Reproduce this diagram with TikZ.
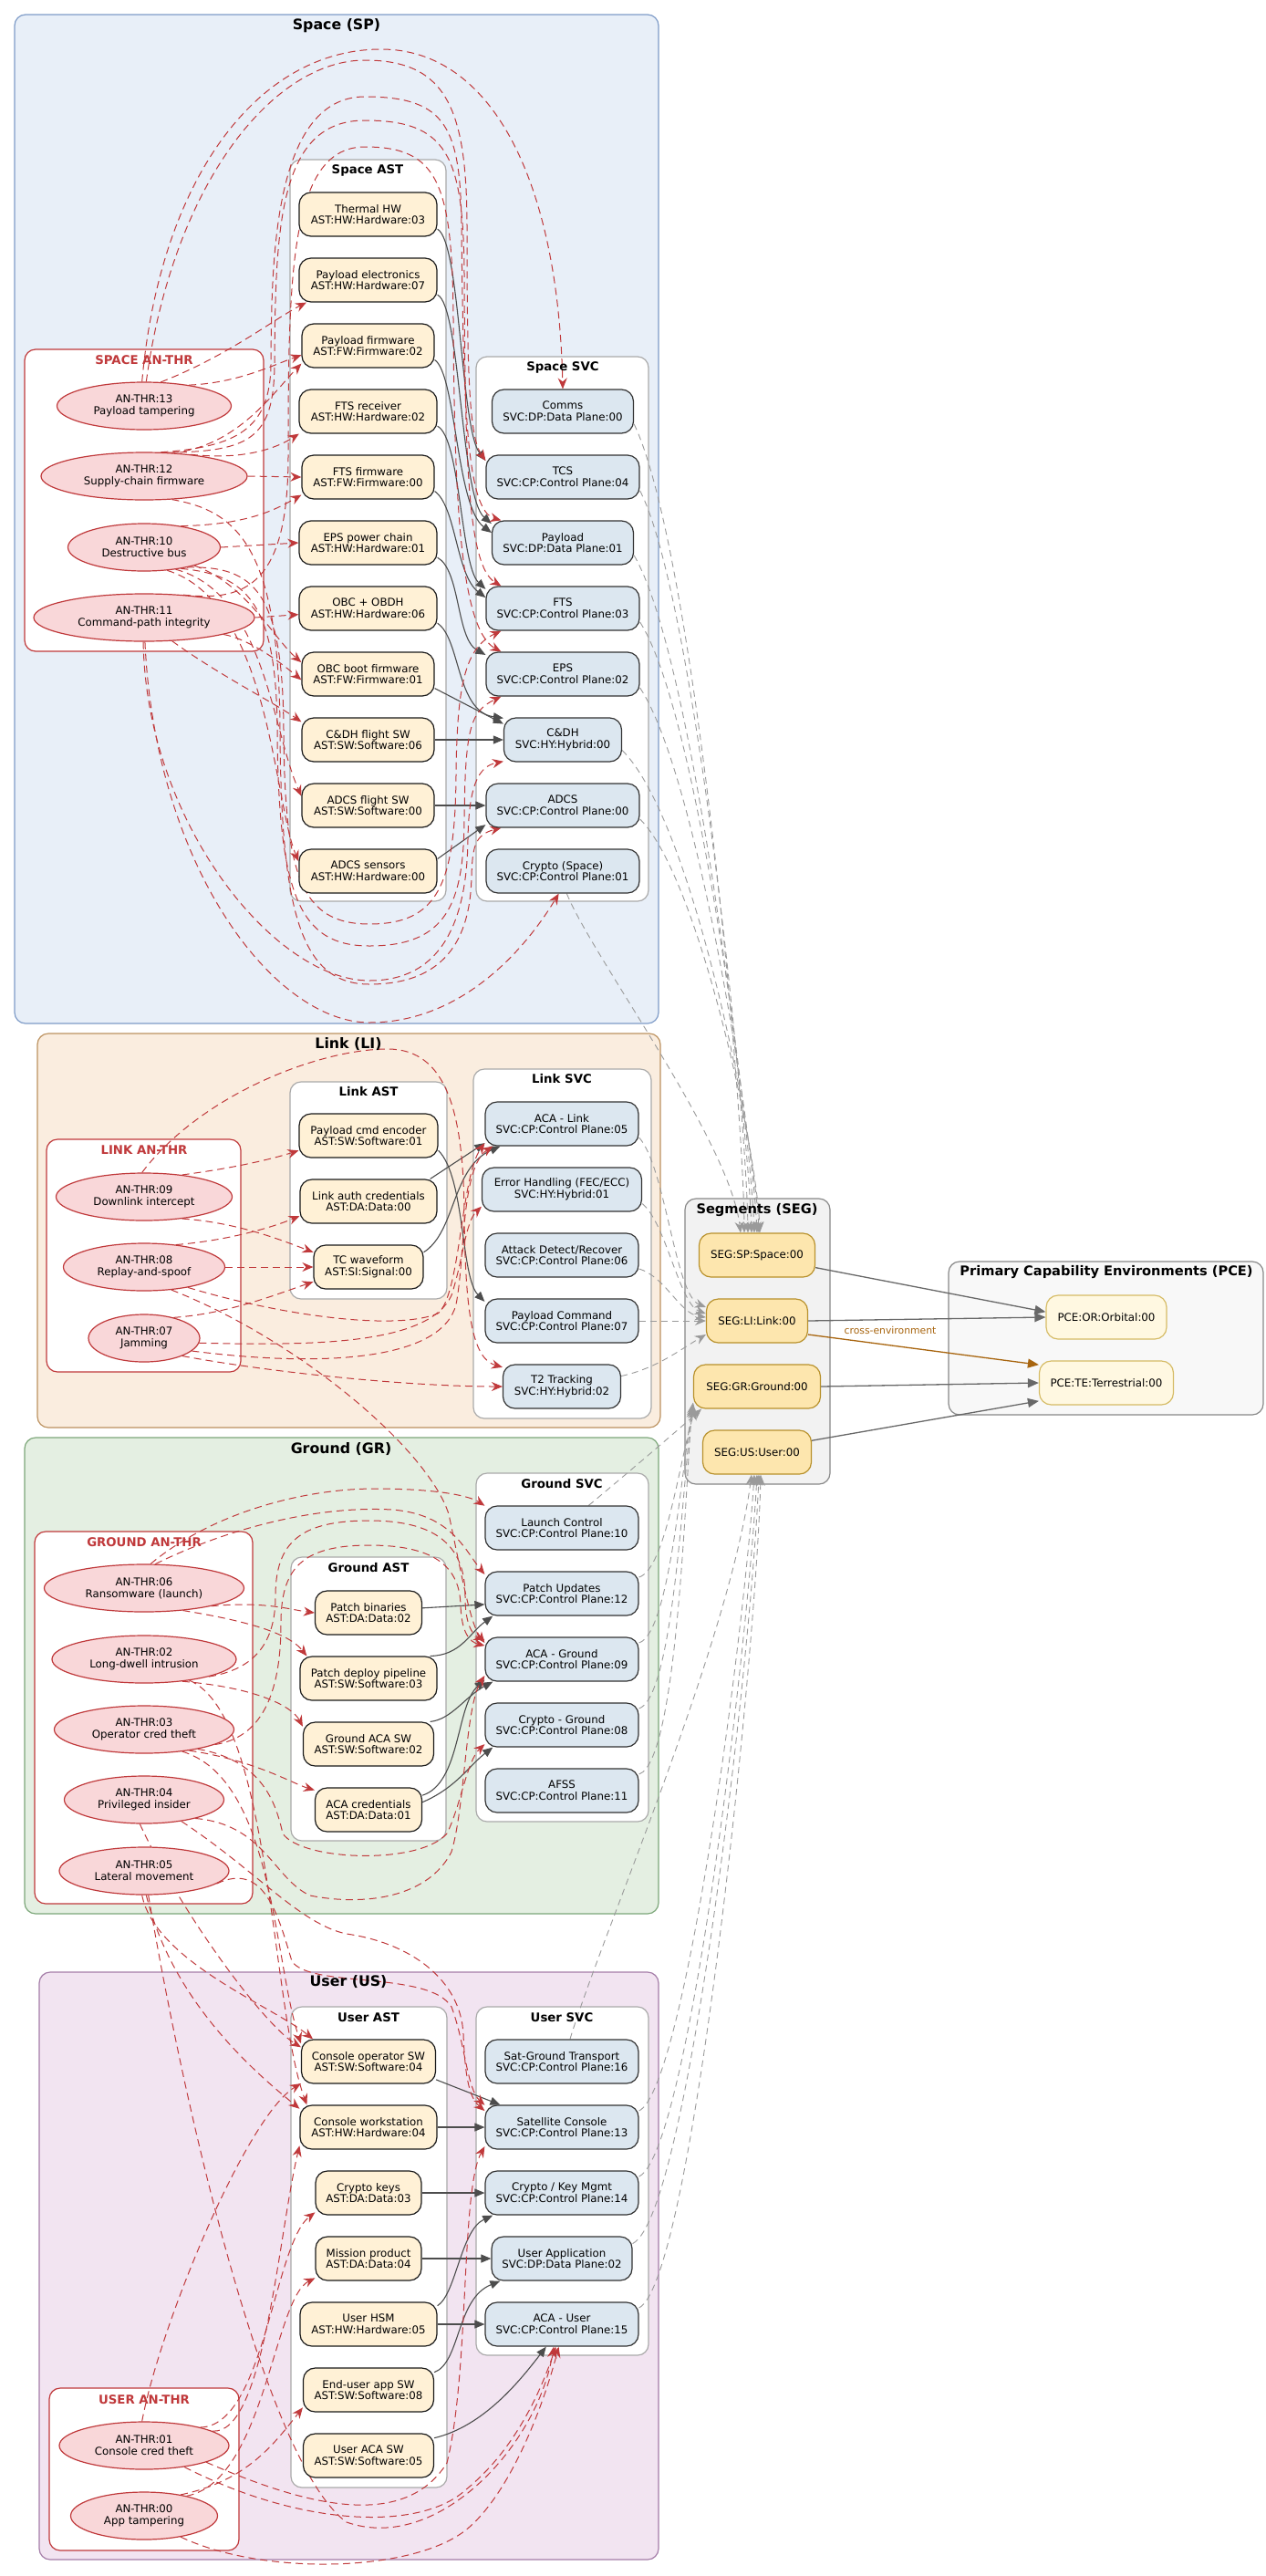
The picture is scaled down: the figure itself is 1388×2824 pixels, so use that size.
\documentclass[tikz,border=0pt]{standalone}
\usepackage{fontspec}
\setmainfont{DejaVu Sans}
\usetikzlibrary{shapes.geometric,arrows.meta}
\pgfdeclarelayer{bg}
\pgfdeclarelayer{edges}
\pgfsetlayers{bg,edges,main}
\definecolor{spfill}{HTML}{E8EFF8}\definecolor{spdraw}{HTML}{7F9CC8}
\definecolor{lifill}{HTML}{FAEDDF}\definecolor{lidraw}{HTML}{BC9260}
\definecolor{grfill}{HTML}{E4EFE2}\definecolor{grdraw}{HTML}{7DA77A}
\definecolor{usfill}{HTML}{F2E4F1}\definecolor{usdraw}{HTML}{A57DA8}
\definecolor{subdraw}{HTML}{AAAAAA}
\definecolor{thrdraw}{HTML}{C0393B}\definecolor{thrfill}{HTML}{F9D7D9}
\definecolor{astfill}{HTML}{FFF1D6}\definecolor{astdraw}{HTML}{1A1A1A}
\definecolor{svcfill}{HTML}{DCE7F0}\definecolor{svcdraw}{HTML}{333333}
\definecolor{segfill}{HTML}{FDE6AE}\definecolor{segdraw}{HTML}{B8912C}
\definecolor{pcefill}{HTML}{FFF8E1}\definecolor{pcedraw}{HTML}{D6BC66}
\definecolor{clgray}{HTML}{888888}\definecolor{segclfill}{HTML}{F2F2F2}\definecolor{pceclfill}{HTML}{F8F8F8}
\definecolor{flowcol}{HTML}{4D4D4D}\definecolor{atkcol}{HTML}{C0393B}
\definecolor{mapcol}{HTML}{9A9A9A}\definecolor{browncol}{HTML}{A8650F}
\newcommand{\nf}{\fontsize{11.8}{12.8}\selectfont}
\tikzset{
 cluster/.style={rounded corners=12pt, line width=1.2pt},
 sub/.style={cluster, draw=subdraw, fill=white},
 thrcl/.style={cluster, draw=thrdraw, fill=white},
 ctitle/.style={font=\bfseries\fontsize{15.8}{18}\selectfont, inner sep=0pt},
 stitle/.style={font=\bfseries\fontsize{13.3}{15}\selectfont, inner sep=0pt},
 btitle/.style={font=\bfseries\fontsize{14.6}{16}\selectfont, inner sep=0pt},
 ttitle/.style={stitle, text=thrdraw},
 box/.style={rounded corners=13pt, minimum height=48pt, inner sep=0pt, align=center, font=\nf, line width=1.2pt},
 ast/.style={box, draw=astdraw, fill=astfill},
 svc/.style={box, draw=svcdraw, fill=svcfill},
 seg/.style={box, draw=segdraw, fill=segfill},
 pce/.style={box, draw=pcedraw, fill=pcefill},
 thr/.style={ellipse, draw=thrdraw, fill=thrfill, line width=1.2pt, minimum height=52pt, inner sep=0pt, align=center, font=\nf},
 flow/.style={draw=flowcol, line width=1.1pt, -{Triangle[length=11pt,width=9pt]}},
 flowg/.style={draw=flowcol!85, line width=1.3pt, -{Triangle[length=12pt,width=10pt]}},
 flowb/.style={draw=browncol, line width=1.3pt, -{Triangle[length=12pt,width=10pt]}},
 atk/.style={draw=atkcol, line width=1pt, dash pattern=on 8pt off 5pt, -{Stealth[length=12pt,width=10pt,inset=4pt]}},
 map/.style={draw=mapcol, line width=0.9pt, dash pattern=on 7pt off 5pt, -{Stealth[length=12pt,width=10pt,inset=4pt]}},
}
\begin{document}
\begin{tikzpicture}[x=1pt,y=-1pt]
\useasboundingbox (0,0) rectangle (1388,2824);
\begin{pgfonlayer}{bg}
\fill[white] (0,0) rectangle (1388,2824);
% Space
\draw[cluster, draw=spdraw, fill=spfill] (16,16) rectangle (722,1122);
\draw[sub] (318,175) rectangle (489,988);
\draw[sub] (522,391) rectangle (711,988);
\draw[thrcl] (27,383) rectangle (289,714);
% Link
\draw[cluster, draw=lidraw, fill=lifill] (41,1133) rectangle (724,1565);
\draw[sub] (318,1186) rectangle (490,1424);
\draw[sub] (519,1172) rectangle (714,1555);
\draw[thrcl] (51,1249) rectangle (264,1504);
% Ground
\draw[cluster, draw=grdraw, fill=grfill] (27,1576) rectangle (722,2098);
\draw[sub] (522,1615) rectangle (711,1997);
\draw[sub] (319,1707) rectangle (489,2018);
\draw[thrcl] (38,1679) rectangle (277,2087);
% User
\draw[cluster, draw=usdraw, fill=usfill] (43,2162) rectangle (722,2806);
\draw[sub] (319,2200) rectangle (490,2727);
\draw[sub] (522,2200) rectangle (711,2582);
\draw[thrcl] (54,2618) rectangle (262,2796);
% Segments / PCE
\draw[cluster, draw=clgray, fill=segclfill] (751,1314) rectangle (910,1627);
\draw[cluster, draw=clgray, fill=pceclfill] (1040,1383) rectangle (1385,1551);
\end{pgfonlayer}

% titles
\node[ctitle] (tsp) at (369,28) {Space (SP)};
\node[stitle] (tspa) at (403,187) {Space AST};
\node[stitle] (tsps) at (617,403) {Space SVC};
\node[ttitle] (tspt) at (158,395) {SPACE AN-THR};
\node[ctitle] (tli) at (382,1145) {Link (LI)};
\node[stitle] (tlia) at (404,1197) {Link AST};
\node[stitle] (tlis) at (616,1183) {Link SVC};
\node[ttitle] (tlit) at (158,1261) {LINK AN-THR};
\node[ctitle] (tgr) at (374,1589) {Ground (GR)};
\node[stitle] (tgrs) at (616,1627) {Ground SVC};
\node[stitle] (tgra) at (404,1719) {Ground AST};
\node[ttitle] (tgrt) at (158,1691) {GROUND AN-THR};
\node[ctitle] (tus) at (382,2173) {User (US)};
\node[stitle] (tusa) at (404,2212) {User AST};
\node[stitle] (tuss) at (616,2212) {User SVC};
\node[ttitle] (tust) at (158,2631) {USER AN-THR};
\node[btitle] (tseg) at (830,1327) {Segments (SEG)};
\node[btitle] (tpce) at (1213,1395) {Primary Capability Environments (PCE)};

% Space AST
\node[ast, minimum width=151pt] (sa1) at (403.5,235) {Thermal HW\\AST:HW:Hardware:03};
\node[ast, minimum width=151pt] (sa2) at (403.5,307) {Payload electronics\\AST:HW:Hardware:07};
\node[ast, minimum width=145pt] (sa3) at (403.5,379) {Payload firmware\\AST:FW:Firmware:02};
\node[ast, minimum width=151pt] (sa4) at (403.5,451) {FTS receiver\\AST:HW:Hardware:02};
\node[ast, minimum width=145pt] (sa5) at (403.5,523) {FTS firmware\\AST:FW:Firmware:00};
\node[ast, minimum width=151pt] (sa6) at (403.5,595) {EPS power chain\\AST:HW:Hardware:01};
\node[ast, minimum width=151pt] (sa7) at (403.5,667) {OBC + OBDH\\AST:HW:Hardware:06};
\node[ast, minimum width=145pt] (sa8) at (403.5,739) {OBC boot firmware\\AST:FW:Firmware:01};
\node[ast, minimum width=145pt] (sa9) at (403.5,811) {C\&DH flight SW\\AST:SW:Software:06};
\node[ast, minimum width=145pt] (sa10) at (403.5,883) {ADCS flight SW\\AST:SW:Software:00};
\node[ast, minimum width=151pt] (sa11) at (403.5,955) {ADCS sensors\\AST:HW:Hardware:00};
% Space SVC
\node[svc, minimum width=155pt] (ss1) at (617,451) {Comms\\SVC:DP:Data Plane:00};
\node[svc, minimum width=168pt] (ss2) at (617,523) {TCS\\SVC:CP:Control Plane:04};
\node[svc, minimum width=155pt] (ss3) at (617,595) {Payload\\SVC:DP:Data Plane:01};
\node[svc, minimum width=168pt] (ss4) at (617,667) {FTS\\SVC:CP:Control Plane:03};
\node[svc, minimum width=168pt] (ss5) at (617,739) {EPS\\SVC:CP:Control Plane:02};
\node[svc, minimum width=129pt] (ss6) at (617,811) {C\&DH\\SVC:HY:Hybrid:00};
\node[svc, minimum width=168pt] (ss7) at (617,883) {ADCS\\SVC:CP:Control Plane:00};
\node[svc, minimum width=168pt] (ss8) at (617,955) {Crypto (Space)\\SVC:CP:Control Plane:01};
% Space threats
\node[thr, minimum width=191pt] (st13) at (158,445) {AN-THR:13\\Payload tampering};
\node[thr, minimum width=226pt] (st12) at (158,522) {AN-THR:12\\Supply-chain firmware};
\node[thr, minimum width=167pt] (st10) at (158,600) {AN-THR:10\\Destructive bus};
\node[thr, minimum width=242pt] (st11) at (158,677) {AN-THR:11\\Command-path integrity};

% Link
\node[ast, minimum width=152pt] (la1) at (404,1245) {Payload cmd encoder\\AST:SW:Software:01};
\node[ast, minimum width=150pt] (la2) at (404,1317) {Link auth credentials\\AST:DA:Data:00};
\node[ast, minimum width=120pt] (la3) at (404,1389) {TC waveform\\AST:SI:Signal:00};
\node[svc, minimum width=168pt] (ls1) at (616,1232) {ACA - Link\\SVC:CP:Control Plane:05};
\node[svc, minimum width=175pt] (ls2) at (616,1304) {Error Handling (FEC/ECC)\\SVC:HY:Hybrid:01};
\node[svc, minimum width=168pt] (ls3) at (616,1376) {Attack Detect/Recover\\SVC:CP:Control Plane:06};
\node[svc, minimum width=168pt] (ls4) at (616,1448) {Payload Command\\SVC:CP:Control Plane:07};
\node[svc, minimum width=129pt] (ls5) at (616,1520) {T2 Tracking\\SVC:HY:Hybrid:02};
\node[thr, minimum width=193pt] (lt09) at (158,1312) {AN-THR:09\\Downlink intercept};
\node[thr, minimum width=177pt] (lt08) at (158,1389) {AN-THR:08\\Replay-and-spoof};
\node[thr, minimum width=122pt] (lt07) at (158,1467) {AN-THR:07\\Jamming};

% Ground
\node[svc, minimum width=168pt] (gs1) at (616,1675) {Launch Control\\SVC:CP:Control Plane:10};
\node[svc, minimum width=168pt] (gs2) at (616,1747) {Patch Updates\\SVC:CP:Control Plane:12};
\node[svc, minimum width=168pt] (gs3) at (616,1819) {ACA - Ground\\SVC:CP:Control Plane:09};
\node[svc, minimum width=168pt] (gs4) at (616,1891) {Crypto - Ground\\SVC:CP:Control Plane:08};
\node[svc, minimum width=168pt] (gs5) at (616,1963) {AFSS\\SVC:CP:Control Plane:11};
\node[ast, minimum width=117pt] (ga1) at (404,1768) {Patch binaries\\AST:DA:Data:02};
\node[ast, minimum width=150pt] (ga2) at (404,1840) {Patch deploy pipeline\\AST:SW:Software:03};
\node[ast, minimum width=143pt] (ga3) at (404,1912) {Ground ACA SW\\AST:SW:Software:02};
\node[ast, minimum width=117pt] (ga4) at (404,1984) {ACA credentials\\AST:DA:Data:01};
\node[thr, minimum width=219pt] (gt06) at (158,1741) {AN-THR:06\\Ransomware (launch)};
\node[thr, minimum width=202pt] (gt02) at (158,1819) {AN-THR:02\\Long-dwell intrusion};
\node[thr, minimum width=197pt] (gt03) at (158,1896) {AN-THR:03\\Operator cred theft};
\node[thr, minimum width=175pt] (gt04) at (158,1973) {AN-THR:04\\Privileged insider};
\node[thr, minimum width=186pt] (gt05) at (158,2051) {AN-THR:05\\Lateral movement};

% User
\node[ast, minimum width=147pt] (ua1) at (404,2260) {Console operator SW\\AST:SW:Software:04};
\node[ast, minimum width=150pt] (ua2) at (404,2332) {Console workstation\\AST:HW:Hardware:04};
\node[ast, minimum width=116pt] (ua3) at (404,2404) {Crypto keys\\AST:DA:Data:03};
\node[ast, minimum width=116pt] (ua4) at (404,2476) {Mission product\\AST:DA:Data:04};
\node[ast, minimum width=150pt] (ua5) at (404,2548) {User HSM\\AST:HW:Hardware:05};
\node[ast, minimum width=143pt] (ua6) at (404,2620) {End-user app SW\\AST:SW:Software:08};
\node[ast, minimum width=143pt] (ua7) at (404,2692) {User ACA SW\\AST:SW:Software:05};
\node[svc, minimum width=168pt] (us1) at (616,2260) {Sat-Ground Transport\\SVC:CP:Control Plane:16};
\node[svc, minimum width=168pt] (us2) at (616,2332) {Satellite Console\\SVC:CP:Control Plane:13};
\node[svc, minimum width=168pt] (us3) at (616,2404) {Crypto / Key Mgmt\\SVC:CP:Control Plane:14};
\node[svc, minimum width=154pt] (us4) at (616,2476) {User Application\\SVC:DP:Data Plane:02};
\node[svc, minimum width=168pt] (us5) at (616,2548) {ACA - User\\SVC:CP:Control Plane:15};
\node[thr, minimum width=186pt] (ut01) at (158,2681) {AN-THR:01\\Console cred theft};
\node[thr, minimum width=161pt] (ut00) at (158,2758) {AN-THR:00\\App tampering};

% Segments / PCE
\node[seg, minimum width=127pt] (seg1) at (830,1376) {SEG:SP:Space:00};
\node[seg, minimum width=111pt] (seg2) at (830,1448) {SEG:LI:Link:00};
\node[seg, minimum width=139pt] (seg3) at (830,1520) {SEG:GR:Ground:00};
\node[seg, minimum width=119pt] (seg4) at (830,1592) {SEG:US:User:00};
\node[pce, minimum width=132pt] (pce1) at (1213,1444) {PCE:OR:Orbital:00};
\node[pce, minimum width=147pt] (pce2) at (1213,1516) {PCE:TE:Terrestrial:00};
\node[font=\fontsize{10.8}{12}\selectfont, text=browncol, inner sep=0pt] (lblx) at (976,1458) {cross-environment};

\begin{pgfonlayer}{edges}
% ---- solid AST -> SVC
\draw[flow] (sa1.-12) .. controls (505,265) and (505,470) .. (ss2.168);
\draw[flow] (sa2.-12) .. controls (505,335) and (505,545) .. (ss3.165);
\draw[flow] (sa3.-12) .. controls (500,410) and (500,555) .. (ss3.172);
\draw[flow] (sa4.-12) .. controls (505,480) and (505,620) .. (ss4.166);
\draw[flow] (sa5.-12) .. controls (500,555) and (500,630) .. (ss4.172);
\draw[flow] (sa6.-12) .. controls (505,625) and (500,700) .. (ss5.166);
\draw[flow] (sa7.-12) .. controls (505,700) and (500,780) .. (ss6.160);
\draw[flow] (sa8.-12) -- (ss6.165);
\draw[flow] (sa9.east) -- (ss6.west);
\draw[flow] (sa10.east) -- (ss7.west);
\draw[flow] (sa11.10) -- (ss7.-166);
\draw[flow] (la1.-12) .. controls (510,1290) and (505,1400) .. (ls4.166);
\draw[flow] (la2.20) -- (ls1.-166);
\draw[flow] (la3.15) .. controls (500,1350) and (495,1280) .. (ls1.-160);
\draw[flow] (ga1.5) -- (gs2.-172);
\draw[flow] (ga2.20) .. controls (505,1815) and (515,1790) .. (gs2.-162);
\draw[flow] (ga3.20) .. controls (495,1885) and (510,1860) .. (gs3.-162);
\draw[flow] (ga4.15) .. controls (505,1955) and (500,1870) .. (gs3.-165);
\draw[flow] (ga4.8) .. controls (500,1960) and (515,1935) .. (gs4.-162);
\draw[flow] (ua1.-15) -- (us2.160);
\draw[flow] (ua2.east) -- (us2.west);
\draw[flow] (ua3.east) -- (us3.west);
\draw[flow] (ua4.east) -- (us4.west);
\draw[flow] (ua5.15) .. controls (500,2515) and (505,2445) .. (us3.-162);
\draw[flow] (ua5.east) -- (us5.west);
\draw[flow] (ua6.15) .. controls (505,2590) and (500,2520) .. (us4.-160);
\draw[flow] (ua7.15) .. controls (530,2660) and (570,2610) .. (us5.-125);
% ---- SEG -> PCE
\draw[flowg] (seg1.-12) -- (pce1.175);
\draw[flowg] (seg2.east) -- (pce1.west);
\draw[flowb] (seg2.-15) -- (pce2.165);
\draw[flowg] (seg3.east) -- (pce2.west);
\draw[flowg] (seg4.12) -- (pce2.-165);
% ---- SVC -> SEG (gray dashed)
\draw[map] (ss1.-10) .. controls (760,600) and (815,1200) .. ([xshift=-14pt]seg1.north);
\draw[map] (ss2.-10) .. controls (760,650) and (818,1200) .. ([xshift=-10pt]seg1.north);
\draw[map] (ss3.-10) .. controls (760,720) and (820,1220) .. ([xshift=-6pt]seg1.north);
\draw[map] (ss4.-10) .. controls (765,780) and (822,1230) .. ([xshift=-3pt]seg1.north);
\draw[map] (ss5.-10) .. controls (765,850) and (825,1240) .. (seg1.north);
\draw[map] (ss6.-10) .. controls (760,900) and (828,1250) .. ([xshift=2pt]seg1.north);
\draw[map] (ss7.-10) .. controls (765,960) and (830,1260) .. ([xshift=3pt]seg1.north);
\draw[map] (ss8.-80) .. controls (650,1050) and (800,1250) .. ([xshift=-18pt]seg1.north);
\draw[map] (ls1.-10) .. controls (730,1280) and (740,1420) .. (seg2.165);
\draw[map] (ls2.-10) .. controls (730,1340) and (745,1430) .. (seg2.172);
\draw[map] (ls3.-10) .. controls (730,1400) and (745,1440) .. (seg2.176);
\draw[map] (ls4.east) -- (seg2.west);
\draw[map] (ls5.10) .. controls (720,1500) and (745,1480) .. (seg2.-165);
\draw[map] (gs1.40) .. controls (670,1630) and (735,1575) .. (seg3.-158);
\draw[map] (gs2.12) .. controls (730,1720) and (745,1600) .. (seg3.-160);
\draw[map] (gs3.12) .. controls (735,1790) and (748,1600) .. (seg3.-162);
\draw[map] (gs4.12) .. controls (740,1860) and (750,1600) .. (seg3.-164);
\draw[map] (gs5.12) .. controls (745,1930) and (752,1600) .. (seg3.-166);
\draw[map] (us1.70) .. controls (660,2120) and (800,1800) .. ([xshift=-6pt]seg4.south);
\draw[map] (us2.12) .. controls (750,2290) and (815,1800) .. ([xshift=-3pt]seg4.south);
\draw[map] (us3.12) .. controls (755,2360) and (820,1800) .. (seg4.south);
\draw[map] (us4.12) .. controls (755,2430) and (825,1800) .. ([xshift=2pt]seg4.south);
\draw[map] (us5.12) .. controls (760,2500) and (830,1800) .. ([xshift=4pt]seg4.south);
% ---- Space attacks
\draw[atk] (st13.55) .. controls (250,390) and (300,350) .. (sa2.-160);
\draw[atk] (st13.25) .. controls (260,420) and (300,400) .. (sa3.-172);
\draw[atk] (st12.40) .. controls (260,490) and (300,430) .. (sa3.-165);
\draw[atk] (st12.25) .. controls (270,505) and (305,490) .. (sa4.-162);
\draw[atk] (st12.east) -- (sa5.west);
\draw[atk] (st10.30) .. controls (270,575) and (300,560) .. (sa5.-165);
\draw[atk] (st10.east) -- (sa6.west);
\draw[atk] (st11.east) -- (sa7.-175);
\draw[atk] (st10.-20) .. controls (270,640) and (300,700) .. (sa8.170);
\draw[atk] (st11.-12) .. controls (270,700) and (300,720) .. (sa8.-175);
\draw[atk] (st11.-40) .. controls (240,740) and (300,770) .. (sa9.165);
\draw[atk] (st10.-35) .. controls (290,650) and (298,800) .. (sa10.172);
\draw[atk] (st10.-45) .. controls (296,660) and (300,880) .. (sa11.172);
\draw[atk] (st13.95) .. controls (175,200) and (280,54) .. (418,54) .. controls (540,54) and (612,200) .. (ss1.north);
\draw[atk] (st13.85) .. controls (190,200) and (300,66) .. (400,66) .. controls (490,66) and (512,120) .. (512,250) .. controls (512,420) and (515,480) .. (ss2.168);
\draw[atk] (st12.55) .. controls (260,490) and (296,470) .. (297,400) .. controls (298,300) and (296,106) .. (400,106) .. controls (490,106) and (505,140) .. (506,250) .. controls (508,450) and (512,560) .. (ss3.160);
\draw[atk] (st12.45) .. controls (275,495) and (300,480) .. (301,400) .. controls (302,250) and (305,132) .. (400,132) .. controls (490,132) and (508,170) .. (509,300) .. controls (510,500) and (512,620) .. (ss4.160);
\draw[atk] (st11.30) .. controls (270,660) and (316,640) .. (316,500) .. controls (316,300) and (318,161) .. (400,161) .. controls (480,161) and (496,200) .. (497,350) .. controls (498,550) and (505,690) .. (ss5.160);
\draw[atk] (st10.-25) .. controls (280,620) and (310,650) .. (311,800) .. controls (312,960) and (330,1013) .. (405,1013) .. controls (480,1013) and (499,970) .. (500,850) .. controls (501,750) and (510,710) .. (ss4.-160);
\draw[atk] (st10.-30) .. controls (270,630) and (303,660) .. (304,800) .. controls (305,985) and (330,1037) .. (405,1037) .. controls (490,1037) and (508,990) .. (509,900) .. controls (510,800) and (515,780) .. (ss5.-160);
\draw[atk] (st11.-92) .. controls (160,900) and (300,1075) .. (405,1075) .. controls (490,1075) and (512,1000) .. (513,920) .. controls (514,860) and (525,840) .. (ss6.-160);
\draw[atk] (st12.-40) .. controls (260,560) and (306,600) .. (307,800) .. controls (308,1000) and (330,1079) .. (405,1079) .. controls (495,1079) and (516,1020) .. (517,960) .. controls (518,930) and (520,915) .. (ss7.-160);
\draw[atk] (st11.-88) .. controls (170,950) and (300,1121) .. (405,1121) .. controls (500,1121) and (570,1050) .. (ss8.-100);
% ---- Link attacks
\draw[atk] (lt09.30) .. controls (260,1280) and (300,1270) .. (la1.-168);
\draw[atk] (lt09.-30) .. controls (260,1340) and (310,1360) .. (la3.165);
\draw[atk] (lt09.95) .. controls (220,1200) and (350,1150) .. (425,1150) .. controls (490,1150) and (508,1220) .. (509,1330) .. controls (510,1450) and (520,1490) .. (ls5.162);
\draw[atk] (lt08.35) .. controls (250,1360) and (300,1345) .. (la2.-168);
\draw[atk] (lt08.east) -- (la3.west);
\draw[atk] (lt08.-25) .. controls (300,1440) and (430,1460) .. (480,1440) .. controls (505,1420) and (505,1290) .. (ls1.-166);
\draw[atk] (lt08.-40) .. controls (330,1470) and (470,1590) .. (492,1660) .. controls (505,1720) and (515,1780) .. (gs3.168);
\draw[atk] (lt07.35) .. controls (250,1440) and (300,1420) .. (la3.-165);
\draw[atk] (lt07.-5) .. controls (340,1475) and (470,1475) .. (495,1420) .. controls (508,1380) and (510,1340) .. (ls2.-168);
\draw[atk] (lt07.-15) .. controls (360,1500) and (485,1490) .. (500,1430) .. controls (510,1380) and (505,1280) .. (ls1.-162);
\draw[atk] (lt07.-25) .. controls (300,1505) and (450,1520) .. (ls5.west);
% ---- Ground attacks
\draw[atk] (gt06.-15) .. controls (290,1755) and (320,1765) .. (ga1.west);
\draw[atk] (gt06.-30) .. controls (290,1780) and (320,1795) .. (ga2.160);
\draw[atk] (gt06.75) .. controls (230,1660) and (330,1632) .. (411,1632) .. controls (480,1632) and (515,1640) .. (gs1.164);
\draw[atk] (gt06.65) .. controls (240,1680) and (340,1650) .. (430,1655) .. controls (495,1660) and (510,1700) .. (gs2.166);
\draw[atk] (gt02.-30) .. controls (280,1850) and (320,1870) .. (ga3.165);
\draw[atk] (gt03.-25) .. controls (280,1930) and (320,1955) .. (ga4.160);
\draw[atk] (gt02.-15) .. controls (280,1830) and (302,1800) .. (302,1750) .. controls (302,1690) and (330,1667) .. (405,1667) .. controls (485,1667) and (510,1700) .. (510,1750) .. controls (510,1785) and (520,1793) .. (gs3.166);
\draw[atk] (gt03.-12) .. controls (285,1905) and (308,1860) .. (308,1780) .. controls (308,1720) and (330,1694) .. (405,1694) .. controls (480,1694) and (504,1720) .. (505,1760) .. controls (506,1790) and (515,1800) .. (gs3.170);
\draw[atk] (gt03.-20) .. controls (290,1930) and (303,1980) .. (310,2010) .. controls (330,2040) and (460,2045) .. (490,2010) .. controls (505,1980) and (512,1930) .. (gs4.-166);
\draw[atk] (gt04.-20) .. controls (290,2000) and (300,2060) .. (340,2078) .. controls (400,2090) and (470,2080) .. (495,2030) .. controls (510,1980) and (510,1870) .. (gs3.-168);
\draw[atk] (gt05.-95) .. controls (170,2150) and (300,2200) .. (ua1.158);
\draw[atk] (gt05.-85) .. controls (190,2200) and (290,2280) .. (ua2.165);
\draw[atk] (gt04.-100) .. controls (200,2100) and (290,2220) .. (ua1.168);
\draw[atk] (gt02.-25) .. controls (297,1880) and (297,2200) .. (ua2.160);
\draw[atk] (gt03.-30) .. controls (300,1950) and (300,2150) .. (ua1.165);
\draw[atk] (gt05.-80) .. controls (200,2300) and (290,2700) .. (380,2765) .. controls (480,2800) and (590,2680) .. (us5.-110);
\draw[atk] (gt05.-10) .. controls (290,2040) and (305,2100) .. (320,2150) .. controls (340,2180) and (470,2160) .. (495,2200) .. controls (510,2240) and (512,2290) .. (us2.164);
\draw[atk] (gt04.-30) .. controls (280,2050) and (330,2110) .. (380,2120) .. controls (450,2130) and (505,2170) .. (508,2230) .. controls (510,2280) and (515,2300) .. (us2.168);
% ---- User attacks
\draw[atk] (ut01.95) .. controls (175,2550) and (270,2320) .. (ua1.-162);
\draw[atk] (ut01.12) .. controls (290,2670) and (305,2450) .. (ua2.-165);
\draw[atk] (ut01.18) .. controls (290,2660) and (300,2460) .. (ua3.-160);
\draw[atk] (ut00.25) .. controls (290,2720) and (300,2520) .. (ua4.-160);
\draw[atk] (ut00.30) .. controls (270,2720) and (300,2680) .. (ua6.-165);
\draw[atk] (ut01.-15) .. controls (320,2740) and (440,2780) .. (490,2700) .. controls (515,2600) and (505,2400) .. (us2.-166);
\draw[atk] (ut01.-28) .. controls (330,2770) and (460,2775) .. (510,2730) .. controls (560,2690) and (590,2630) .. (us5.-105);
\draw[atk] (ut00.-30) .. controls (290,2825) and (460,2820) .. (515,2770) .. controls (560,2730) and (595,2640) .. (us5.-98);
\end{pgfonlayer}
\end{tikzpicture}
\end{document}
